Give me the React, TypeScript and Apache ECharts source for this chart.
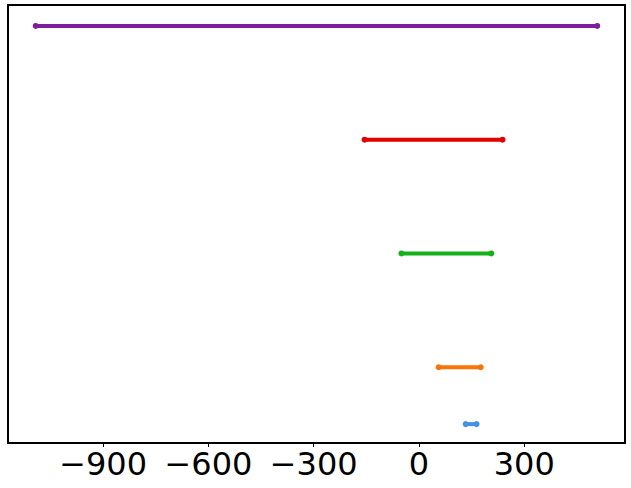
import React, { useEffect, useRef } from "react";
import * as echarts from "echarts";

const names = ["purple", "red", "green", "orange", "blue"];
const colors = ["#7e1e9c", "#e50000", "#15b01a", "#f97306", "#4590e6"];
const starts = [-1092, -155, -50, 56, 133];
const ends = [508, 238, 206, 176, 164];
const levels = [8, 6, 4, 2, 1];
const tickValues = [-900, -600, -300, 0, 300];

export default function App() {
  const ref = useRef<HTMLDivElement>(null);
  useEffect(() => {
    if (!ref.current) return;
    const chart = echarts.init(ref.current, null, { renderer: "svg" });
    chart.setOption({
      animation: false,
      backgroundColor: "#ffffff",
      grid: {
        left: 8,
        right: 6,
        top: 5,
        bottom: 45,
        show: true,
        borderColor: "#000",
        borderWidth: 2,
        backgroundColor: "transparent",
      },
      xAxis: {
        type: "value",
        min: -1171,
        max: 587,
        axisLine: { show: false },
        splitLine: { show: false },
        axisTick: {
          show: true,
          length: 4,
          lineStyle: { color: "#000", width: 1 },
          customValues: tickValues,
        },
        axisLabel: {
          customValues: tickValues,
          fontFamily: "DejaVu Sans",
          fontSize: 32,
          color: "#000",
          margin: 5,
          formatter: (v: number) => (v < 0 ? "\u2212" + Math.abs(v) : String(v)),
        },
      },
      yAxis: {
        type: "value",
        min: 0.668,
        max: 8.368,
        show: false,
        splitLine: { show: false },
      },
      series: names.map((n, i) => ({
        name: n,
        type: "line",
        data: [
          [starts[i], levels[i]],
          [ends[i], levels[i]],
        ],
        symbol: "circle",
        symbolSize: 6,
        showSymbol: true,
        itemStyle: { color: colors[i] },
        lineStyle: { color: colors[i], width: 4 },
      })),
    });
    return () => chart.dispose();
  }, []);
  return (
    <div
      ref={ref}
      style={{ position: "fixed", left: 0, top: 0, width: 631, height: 488 }}
    />
  );
}
